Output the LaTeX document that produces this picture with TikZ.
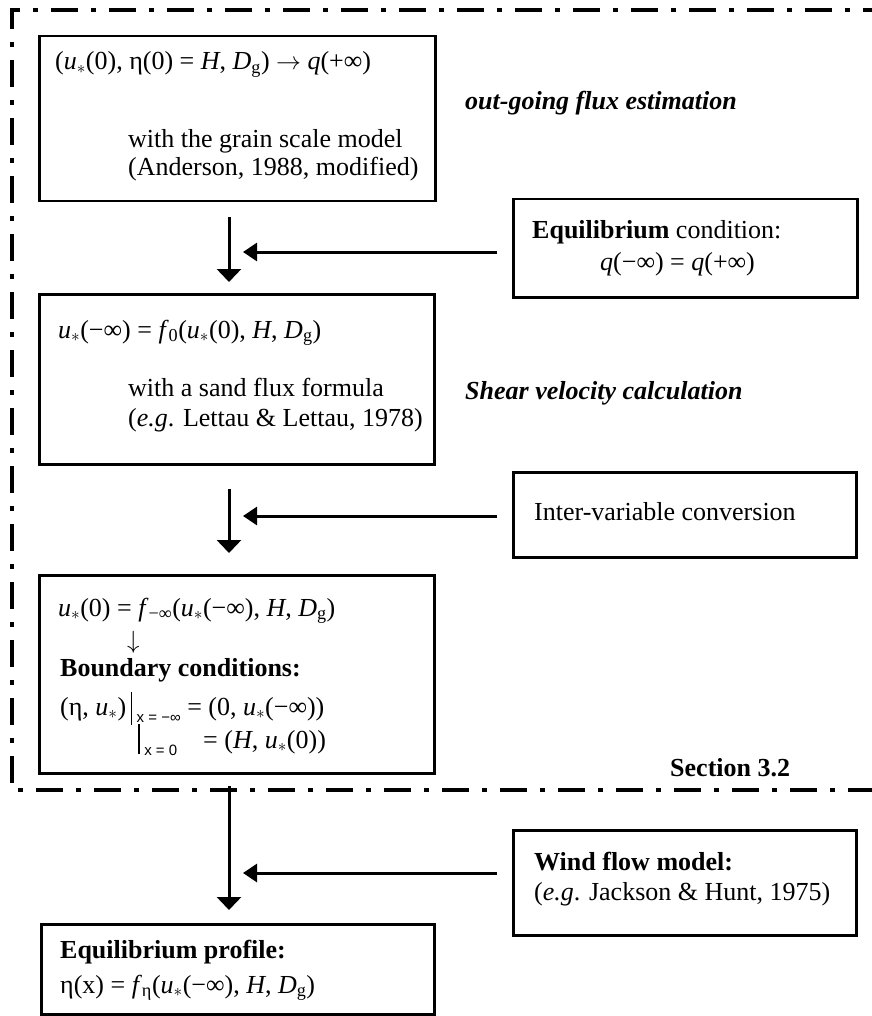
\documentclass[tikz,border=0pt]{standalone}
\usepackage{fontspec}
\setmainfont{Liberation Serif}
\setsansfont{Liberation Sans}
\usepackage{tikz}
\usetikzlibrary{arrows.meta}

\newcommand{\ustar}{\textit{u}$_*$}
\newcommand{\Dg}{\textit{D}\textsubscript{g}}
\newcommand{\xsub}[1]{\raisebox{-7pt}{\fontsize{15}{15}\selectfont\sffamily #1}}

\begin{document}
\begin{tikzpicture}[x=1pt,y=-1pt,font=\fontsize{26}{29}\selectfont,
  box/.style={draw,line width=2.5pt,anchor=north west,inner sep=0pt},
  txt/.style={anchor=base west,inner sep=0pt},
  flow/.style={line width=3pt,-{Triangle[width=24pt,length=13pt]}},
  feed/.style={line width=3pt,-{Triangle[width=18pt,length=14pt]}},
  frame/.style={line width=3.6pt,dash pattern=on 27pt off 13pt on 5pt off 13pt}]
\useasboundingbox (0,0) rectangle (871,1016);

% section 3.2 frame
\draw[frame] (890,10) -- (12,10) -- (12,790) -- (890,790);
\node[txt] (sect) at (670,776) {\textbf{Section 3.2}};

% left column
\node[box,minimum width=396pt,minimum height=165pt] (fluxbox) at (38,35) {};
\node[txt] (flux1) at (55,70) {(\ustar(0), η(0) = \textit{H}, \Dg) $\rightarrow$\ \textit{q}(+∞)};
\node[txt] (flux2) at (128,148) {with the grain scale model};
\node[txt] (flux3) at (128,176) {(Anderson, 1988, modified)};

\node[box,minimum width=395pt,minimum height=170pt] (shearbox) at (38,293) {};
\node[txt] (shear1) at (58,338) {\ustar(−∞) = \textit{f}\textsubscript{0}(\ustar(0), \textit{H}, \Dg)};
\node[txt] (shear2) at (128,396) {with a sand flux formula};
\node[txt] (shear3) at (128,426) {(\textit{e.g}. Lettau \& Lettau, 1978)};

\node[box,minimum width=395pt,minimum height=198pt] (bcbox) at (38,574) {};
\node[txt] (bc1) at (58,616) {\ustar(0) = \textit{f}\textsubscript{−∞}(\ustar(−∞), \textit{H}, \Dg)};
\node[txt] (bcarrow) at (127,648) {$\downarrow$};
\node[txt] (bc2) at (60,676) {\textbf{Boundary conditions:}};
\node[txt] (bc3) at (60,715) {(η, \ustar)\,\rule[-10pt]{1.8pt}{33pt}\,\xsub{x = −∞} = (0, \ustar(−∞))};
\node[txt] (bc4) at (138,748) {\rule[-6pt]{1.8pt}{30pt}\,\xsub{x = 0}};
\node[txt] (bc5) at (203,748) {= (\textit{H}, \ustar(0))};

\node[box,minimum width=393pt,minimum height=90pt] (profbox) at (40,923) {};
\node[txt] (prof1) at (60,958) {\textbf{Equilibrium profile:}};
\node[txt] (prof2) at (60,993) {η(x) = \textit{f}\textsubscript{η}(\ustar(−∞), \textit{H}, \Dg)};

% right column
\node[txt] (fluxlabel) at (465,110) {\textbf{\textit{out-going flux estimation}}};
\node[txt] (shearlabel) at (465,399) {\textbf{\textit{Shear velocity calculation}}};

\node[box,minimum width=344pt,minimum height=98pt] (eqbox) at (512,198) {};
\node[txt] (eq1) at (532,238) {\textbf{Equilibrium} condition:};
\node[txt] (eq2) at (600,270) {\textit{q}(−∞) = \textit{q}(+∞)};

\node[box,minimum width=343pt,minimum height=85pt] (convbox) at (512,471) {};
\node[txt] (conv1) at (534,520) {Inter-variable conversion};

\node[box,minimum width=343pt,minimum height=105pt] (windbox) at (512,829) {};
\node[txt] (wind1) at (534,870) {\textbf{Wind flow model:}};
\node[txt] (wind2) at (534,900) {(\textit{e.g}. Jackson \& Hunt, 1975)};

% connectors
\coordinate (spine) at (229,0);
\coordinate (framecut) at (229,786);
\coordinate (eqin) at (243,252);
\coordinate (convin) at (243,516);
\coordinate (windin) at (243,873);

\draw[flow] ([yshift=-15pt]fluxbox.south -| spine) -- ([yshift=11pt]shearbox.north -| spine);
\draw[flow] ([yshift=-23pt]shearbox.south -| spine) -- ([yshift=21pt]bcbox.north -| spine);
\draw[flow] (framecut) -- ([yshift=13pt]profbox.north -| spine);

\draw[feed] ([xshift=-15pt]eqbox.west |- eqin) -- (eqin);
\draw[feed] ([xshift=-15pt]convbox.west |- convin) -- (convin);
\draw[feed] ([xshift=-15pt]windbox.west |- windin) -- (windin);
\end{tikzpicture}
\end{document}
